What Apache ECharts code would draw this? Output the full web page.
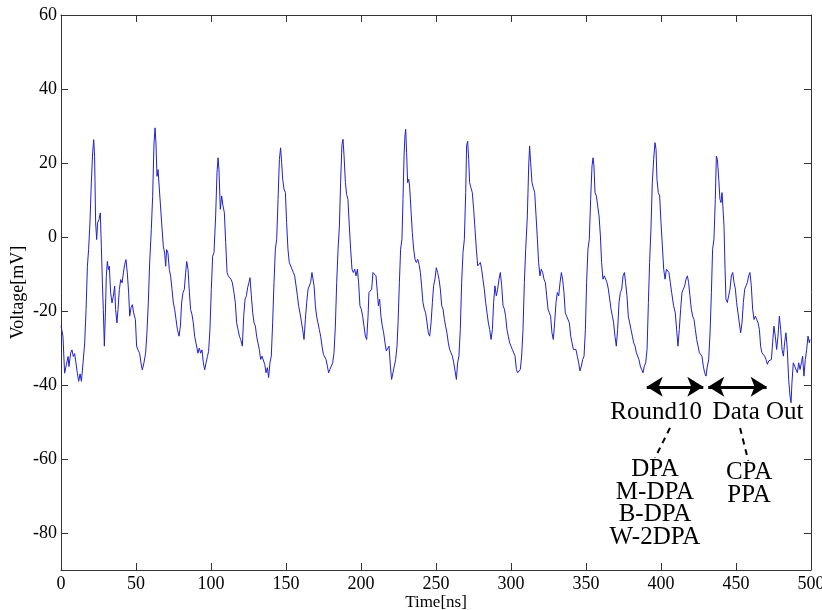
<!DOCTYPE html>
<html>
<head>
<meta charset="utf-8">
<script src="https://cdn.jsdelivr.net/npm/echarts@6/dist/echarts.min.js"></script>
<style>
html,body{margin:0;padding:0;background:#fff;}
#chart{width:822px;height:610px;}
</style>
</head>
<body>
<div id="chart"></div>
<script>
// ---- data ----
var timeNs = [
0,0.7,1.3,2.4,3.6,4.7,5.3,6.4,7.3,8.2,9.1,10.2,10.9,11.8,12.7,13.6,14.7,15.8,16.7,17.6,18.4,19.3,20.2,21.1,21.8,22.4,23.1,23.8,24.4,25.3,26.2,26.9,27.6,28.2,28.9,29.6,30.2,30.9,31.6,32.2,33.1,34,34.9,35.8,36.4,37.3,38,38.9,39.8,40.7,41.6,42.4,43.3,44.2,45.1,45.8,46.7,47.6,48.4,49.6,
50.4,51.3,52.4,53.3,54.2,55.3,56.4,57.3,58.2,59.1,60.2,61.1,62,62.7,63.3,64,64.7,65.3,66.2,67.1,68.2,69.1,69.8,70.4,71.3,72.2,73.1,74,74.9,75.8,76.7,77.6,78.7,79.6,80.4,81.3,82.2,83.1,83.8,84.7,85.6,86.4,87.3,88.2,89.1,90.2,91.3,92.2,93.1,94,94.9,95.8,96.7,97.6,98.4,99.3,100.2,101.1,
102,103.1,104,104.7,105.3,106.2,107.1,108,108.9,109.8,110.7,111.5,112.4,113.3,114.2,115.3,116.2,117.1,118,118.9,119.8,120.9,121.8,122.7,123.6,124.4,125.3,126,126.9,127.8,128.7,129.6,130.4,131.3,132.2,133.1,134,134.9,135.8,136.7,137.6,138.4,139.3,140.2,141.1,142,142.9,143.8,144.7,145.6,146.4,147.1,147.8,148.7,149.6,
150.4,151.3,152.2,153.1,154,154.9,155.8,156.7,157.6,158.4,159.3,160.2,161.1,162,162.9,163.8,164.7,165.6,166.4,167.3,168,168.7,169.6,170.4,171.3,172.2,173.1,174,174.9,175.8,176.7,177.6,178.4,179.3,180.2,181.1,182,182.9,183.8,184.7,185.6,186.4,187.3,188,188.7,189.6,190.4,191.3,192.2,193.1,194,194.9,195.8,196.7,197.6,198.4,199.3,
200.2,201.1,202,202.9,203.8,204.7,205.3,206.2,207.1,208,209.1,210,210.9,211.6,212.4,213.3,214.2,215.1,216,216.9,217.8,218.7,219.6,220.4,221.3,222.2,223.1,224,224.7,225.6,226.4,227.3,228,228.7,229.3,229.8,230.4,231.1,231.8,232.4,233.3,234.2,235.1,236,236.9,237.8,238.7,239.6,240.4,241.3,242.2,243.1,244,244.9,245.8,246.7,247.6,248.4,249.3,
250.2,251.1,252,252.9,253.8,254.7,255.6,256.4,257.3,258.2,259.1,260,260.9,261.8,262.7,263.6,264.4,265.3,266.2,267.1,268,268.9,269.8,270.4,271.1,271.8,272.4,273.3,274.2,275.1,276,276.9,277.8,278.7,279.6,280.4,281.3,282.2,283.1,284,284.9,285.8,286.7,287.6,288.4,289.3,290.2,291.1,292,292.9,293.8,294.7,295.6,296.4,297.3,298.2,299.1,
300,300.9,301.8,302.7,303.6,304.4,305.3,306.2,307.1,308,308.9,309.8,310.9,311.8,312.4,313.1,314,314.9,315.8,316.7,317.6,318.4,319.3,320.2,321.1,322,322.9,323.8,324.7,325.6,326.4,327.3,328.2,329.1,330,330.9,331.8,332.7,333.6,334.4,335.3,336.2,337.1,338,338.9,339.8,340.7,341.6,342.4,343.3,344.2,345.1,346,346.9,347.8,348.7,349.6,
350.4,351.3,352.2,353.1,354,354.7,355.3,356,356.9,357.8,358.7,359.6,360.4,361.3,362.2,363.1,364,364.9,365.8,366.7,367.6,368.4,369.3,370.2,371.1,372,372.9,373.8,374.7,375.6,376.4,377.3,378.2,379.1,380,380.9,381.8,382.7,383.6,384.4,385.3,386.2,387.1,388,388.9,389.8,390.7,391.6,392.4,393.3,394.2,395.1,396,396.7,397.3,398.2,399.1,
400,400.9,401.8,402.7,403.6,404.4,405.3,406.2,407.1,408.4,409.5,410.4,411.3,412.2,413.1,414,414.9,415.8,416.7,417.6,418.4,419.3,420.2,421.1,422,422.9,423.8,424.7,425.6,426.4,427.3,428.2,429.1,430,430.9,431.8,432.7,433.6,434.4,435.3,436.2,436.9,437.6,438.5,439.3,440,440.7,441.3,442,442.7,443.3,444.2,445.1,446,446.9,447.8,448.7,449.6,
450.4,451.3,452.2,453.1,454,454.9,455.8,456.7,457.6,458.4,459.3,460.2,461.1,462,462.9,463.8,464.7,465.6,466.4,467.3,468.2,469.1,470,470.9,471.8,472.7,473.6,474.4,475.3,476.2,477.1,478,478.9,479.8,480.7,481.6,482.4,483.3,484.2,485.1,486,486.7,487.3,488.2,489.1,490,490.9,491.8,492.7,493.6,494.4,495.3,496.2,497.1,498,498.9,499.3
];
var voltageMv = [
-24,-23.7,-26.8,-36.8,-34.5,-32.3,-35,-31.4,-30.5,-32.3,-31.5,-32,-36.8,-39,-37,-39,-34,-28.6,-19.6,-7.9,-3.4,3.8,14.6,22.7,26.3,21.8,3.8,-0.7,3.8,4.7,6.5,-2.5,-12.4,-19.6,-29.5,-20.5,-10.6,-6.6,-8.8,-7.9,-15.1,-17.8,-16,-13.3,-19.6,-23.2,-19.6,-14.2,-11.5,-12.4,-9.7,-7.5,-6.1,-9.7,-15.1,-21.4,-19.1,-18.3,-20.5,-22.3,
-29.5,-30.5,-31.4,-34,-35.9,-34,-31.4,-25.9,-17.8,-7,2,11,25.4,29.5,25.4,16.4,18.2,14.6,9.2,3.8,-2.5,-4.3,-7.9,-3.4,-4.3,-8.8,-10.6,-14.2,-17.8,-19.6,-22.3,-25,-26.8,-24.1,-17.8,-15.1,-14.2,-9.7,-6.6,-8.8,-15.1,-19.6,-20.9,-23.2,-26.8,-26.8,-31.4,-30,-31.4,-30.5,-34,-35.9,-34,-32.3,-30.9,-25,-14.2,-5.2,
-4.2,5.7,17.4,21.4,18.3,7.5,11.1,8.4,6.6,-1.5,-9.6,-10.5,-10.1,-11.4,-12.3,-15,-17.7,-23.2,-25,-26.8,-27.7,-29.5,-21.4,-16.8,-15.9,-13.7,-12.3,-11,-15.9,-20.5,-23.2,-24.1,-26.8,-28.6,-30.4,-33.1,-32.2,-32.6,-34.4,-36.7,-35.3,-38,-34,-32.2,-23.2,-12.3,-3.3,-0.6,10.2,21,24.1,20.1,15.6,12.9,12,
3.9,-3.3,-6.9,-7.4,-8.7,-9.6,-10.5,-13.2,-15.9,-18.6,-20.5,-22.7,-25,-27.7,-22.3,-17.7,-14.1,-14.6,-12.3,-9.6,-9.2,-13.2,-18.6,-21.4,-23.2,-25,-26.8,-29.5,-31.7,-32.2,-33.1,-34.9,-36.7,-35.8,-34.9,-34,-31.3,-24.1,-12.3,-3.3,3,14.7,25,26.4,21.9,14.7,11.5,10.2,3,-3.3,-8.7,-9.6,-8.7,-10.5,-8.7,-12.3,-18.6,
-19.5,-21.4,-24.1,-26.8,-27.7,-21.4,-15,-14.6,-14.1,-9.6,-9.2,-10.5,-15,-18.6,-16.8,-21.4,-24.1,-25.9,-28.6,-30.8,-31.3,-29.5,-34.9,-38.5,-36.7,-34.9,-33.1,-29.5,-23.2,-12.3,-3.3,-0.6,10.2,21.9,27.3,29.1,22.8,14.7,15.6,13.8,7.5,1.2,-3.3,-6,-6.9,-6,-7.4,-9.6,-13.2,-17.7,-19.5,-20.5,-23.2,-25.9,-26.8,-23.2,-17.7,-13.2,-11.4,
-8.3,-9.6,-11.4,-14.1,-18.6,-19.5,-22.3,-24.1,-25.9,-28.6,-30.4,-31.3,-32.2,-33.9,-36.2,-38.5,-34,-32.2,-25,-12.3,-4.2,-0.6,12,24.6,25.9,21,14.7,13.3,12,7.5,2.1,-3.3,-7.8,-7.4,-6.9,-8.7,-11.4,-14.1,-17.7,-20.5,-23.2,-25,-27.7,-25,-17.7,-13.2,-15.9,-14.1,-11.4,-9.6,-13.2,-18.6,-19.5,-21.4,-25,-26.8,-28.6,
-29.5,-30.4,-30.4,-32.2,-35.8,-36.7,-36.7,-35.8,-32.2,-25,-12.3,-3.3,5.7,19.2,24.6,20.1,14.7,13.3,12,5.7,-0.6,-6.9,-10.5,-8.7,-9.6,-11.4,-12.3,-15.9,-19.5,-20.5,-21.4,-25.9,-27.7,-23.2,-17.7,-15,-15.9,-12.3,-9.6,-11.4,-15,-20.5,-21.4,-21.8,-23.2,-26.8,-28.6,-30.4,-30.8,-30.4,-32.2,-34,-36.2,-34.9,-33.1,-32.2,-25,
-12.3,-3.3,-0.6,10.2,19.2,21.4,19.2,12,11.1,8.4,5.7,0.3,-6.9,-11.4,-10.5,-11,-12.3,-14.1,-16.8,-19.5,-21.4,-23.2,-26.8,-29.5,-25,-17.7,-15,-14.1,-10.5,-9.6,-12.3,-15.9,-21.4,-23.2,-25,-26.8,-28.6,-29.5,-31.3,-31.7,-33.1,-34.9,-35.8,-36.7,-34.9,-34,-30.4,-17.7,-6.9,2.1,14.7,21,25.5,23.7,15.6,12,11.1,
3.9,-2.4,-8.7,-11.4,-8.7,-8.3,-9.6,-12.3,-15,-18.6,-20.5,-25,-29.5,-25,-19.5,-15,-14.1,-13.2,-11.4,-10.5,-12.3,-15.9,-19.5,-21.4,-22.3,-25,-27.7,-29.5,-31.3,-31.7,-32.2,-34.9,-36.7,-37.6,-34.9,-33.1,-25.9,-15,-3.3,-0.6,10.2,21.9,21,15.6,10.2,9.3,12,12,3,-8.7,-16.8,-17.7,-17.7,-14.1,-10.5,-9.6,-12.3,-14.1,
-17.7,-20.5,-23.2,-25.9,-23.2,-17.7,-14.1,-13.2,-12.3,-10.5,-9.6,-13.2,-19.5,-22.3,-21.4,-22.3,-23.2,-25,-29.5,-31.3,-31.3,-32.2,-33.1,-34.4,-33.5,-34,-33.1,-28.6,-24.1,-26.8,-30.4,-26.8,-21.4,-25,-30.4,-32.2,-28.6,-25.9,-30.4,-38.5,-43,-44.8,-39.4,-34,-34.9,-34.9,-36.7,-34,-35.8,-34,-32.2,-37.6,-33.1,-30.4,-26.8,-28.6,-27.7
];
var xTickValues = [0, 50, 100, 150, 200, 250, 300, 350, 400, 450, 500];
var yTickValues = [-80, -60, -40, -20, 0, 20, 40, 60];
var xRange = [0, 500];
var yRange = [-90, 60];

// annotations (data coordinates)
var arrowSpans = [[390.5, 428.2], [431.5, 470.4]];
var arrowLevel = -40.5;
var phaseLabels = ['Round10', 'Data Out'];
var phaseLabelPos = [[396.7, -47.3], [464.7, -47.3]];
var leaderLines = [[[406, -51.6], [396, -59.7]], [[452.7, -51.6], [458.2, -60.5]]];
var attackLabels = ['DPA\nM-DPA\nB-DPA\nW-2DPA', 'CPA\nPPA'];
var attackLabelPos = [[396, -72], [458.7, -66.8]];

// ---- chart ----
var FONT = '"Liberation Serif", "Times New Roman", serif';
var seriesData = timeNs.map(function (t, i) { return [t, voltageMv[i]]; });

var markLineData = [];
arrowSpans.forEach(function (s) {
  markLineData.push([
    { coord: [s[0], arrowLevel], symbol: 'arrow', symbolSize: [15, 16] },
    { coord: [s[1], arrowLevel], symbol: 'arrow', symbolSize: [15, 16],
      lineStyle: { color: '#000', width: 3, type: 'solid' } }
  ]);
});
leaderLines.forEach(function (l) {
  markLineData.push([
    { coord: l[0], symbol: 'none' },
    { coord: l[1], symbol: 'none', lineStyle: { color: '#000', width: 2, type: [6, 5] } }
  ]);
});

var markPointData = [];
function addText(txt, pos) {
  markPointData.push({
    coord: pos, symbol: 'circle', symbolSize: 1,
    itemStyle: { color: 'rgba(0,0,0,0)' },
    label: {
      show: true, position: 'inside', formatter: txt,
      fontFamily: FONT, fontSize: 25, lineHeight: 22.5, color: '#000', align: 'center'
    }
  });
}
phaseLabels.forEach(function (t, i) { addText(t, phaseLabelPos[i]); });
attackLabels.forEach(function (t, i) { addText(t, attackLabelPos[i]); });

var axisLineStyle = { show: true, onZero: false, lineStyle: { color: '#333', width: 1 } };
var tickStyle = { show: true, inside: true, length: 7, lineStyle: { color: '#333', width: 1 } };

var chart = echarts.init(document.getElementById('chart'), null, { renderer: 'canvas' });
chart.setOption({
  animation: false,
  backgroundColor: '#fff',
  grid: { left: 61, right: 11, top: 15, bottom: 40, containLabel: false, outerBoundsMode: 'none' },
  xAxis: [{
    type: 'value', position: 'bottom', min: xRange[0], max: xRange[1],
    axisLine: axisLineStyle,
    axisTick: Object.assign({}, tickStyle, { customValues: xTickValues }),
    axisLabel: { customValues: xTickValues, fontFamily: FONT, fontSize: 18, color: '#000', margin: 5 },
    splitLine: { show: false },
    name: 'Time[ns]', nameLocation: 'middle', nameGap: 24, nameMoveOverlap: false,
    nameTextStyle: { fontFamily: FONT, fontSize: 17, color: '#000' }
  }, {
    type: 'value', position: 'top', min: xRange[0], max: xRange[1],
    axisLine: axisLineStyle,
    axisTick: Object.assign({}, tickStyle, { customValues: xTickValues }),
    axisLabel: { show: false }, splitLine: { show: false }
  }],
  yAxis: [{
    type: 'value', position: 'left', min: yRange[0], max: yRange[1],
    axisLine: axisLineStyle,
    axisTick: Object.assign({}, tickStyle, { customValues: yTickValues }),
    axisLabel: { customValues: yTickValues, fontFamily: FONT, fontSize: 18, color: '#000', margin: 4 },
    splitLine: { show: false },
    name: 'Voltage[mV]', nameLocation: 'middle', nameGap: 34, nameRotate: 90, nameMoveOverlap: false,
    nameTextStyle: { fontFamily: FONT, fontSize: 18, color: '#000' }
  }, {
    type: 'value', position: 'right', min: yRange[0], max: yRange[1],
    axisLine: axisLineStyle,
    axisTick: Object.assign({}, tickStyle, { customValues: yTickValues }),
    axisLabel: { show: false }, splitLine: { show: false }
  }],
  series: [{
    type: 'line', xAxisIndex: 0, yAxisIndex: 0,
    data: seriesData, showSymbol: false, symbol: 'none',
    lineStyle: { color: '#2020d0', width: 1 },
    silent: true,
    markLine: {
      silent: true, animation: false, symbol: 'none',
      label: { show: false },
      lineStyle: { color: '#000', width: 3, type: 'solid' },
      data: markLineData
    },
    markPoint: {
      silent: true, animation: false,
      data: markPointData
    }
  }]
});
</script>
</body>
</html>
